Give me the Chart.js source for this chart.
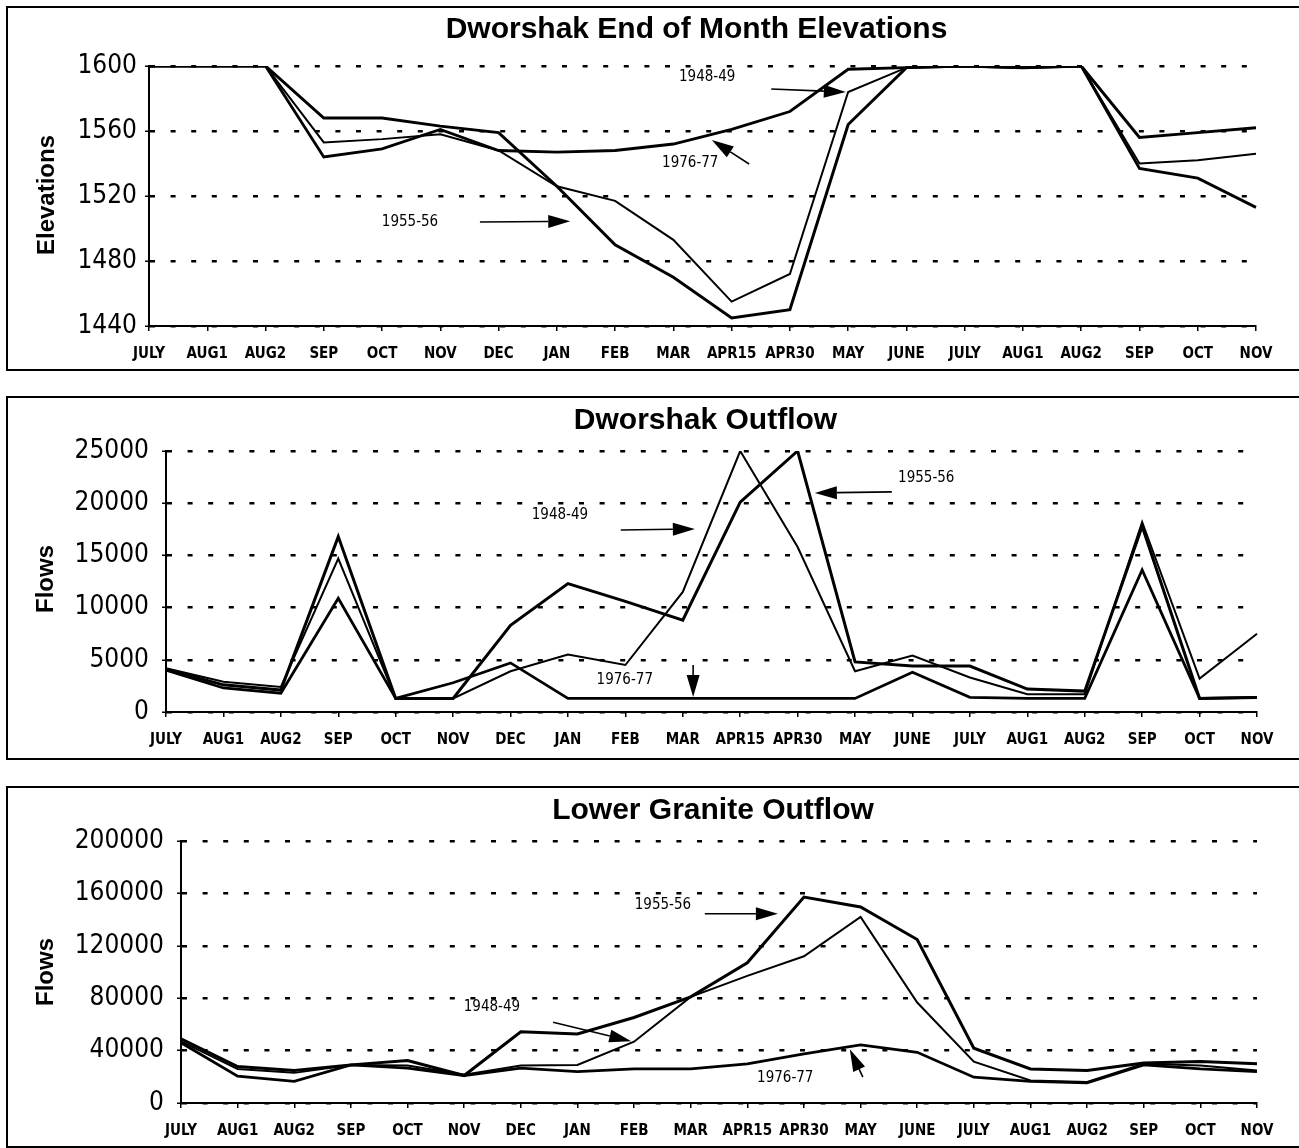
<!DOCTYPE html>
<html>
<head>
<meta charset="utf-8">
<script src="https://cdn.jsdelivr.net/npm/chart.js@4.4.1/dist/chart.umd.min.js"></script>
<style>
  html, body { margin: 0; padding: 0; background: #fff; }
  body { width: 1299px; height: 1148px; position: relative; overflow: hidden; }
  canvas { position: absolute; left: 0; }
  .box { position: absolute; border: 2.5px solid #000; box-sizing: border-box; }
</style>
</head>
<body>
<div class="box" style="left:6px; top:6px; width:1300px; height:365px;"></div>
<div class="box" style="left:6px; top:396px; width:1300px; height:364px;"></div>
<div class="box" style="left:6px; top:786px; width:1300px; height:362px;"></div>
<canvas id="c1" width="1299" height="385" style="top:0px"></canvas>
<canvas id="c2" width="1299" height="385" style="top:385px"></canvas>
<canvas id="c3" width="1299" height="378" style="top:770px"></canvas>
<script>
// ---------------- DATA ----------------
const categories = ['JULY','AUG1','AUG2','SEP','OCT','NOV','DEC','JAN','FEB','MAR','APR15','APR30','MAY','JUNE','JULY','AUG1','AUG2','SEP','OCT','NOV'];
const seriesNames = ['1948-49', '1955-56', '1976-77'];

// Dworshak end of month elevations
const elev4849 = [1600,1600,1600,1553,1555,1558,1548,1526,1517,1493,1455,1472,1584,1599,1600,1599,1600,1540,1542,1546];
const elev5556 = [1600,1600,1600,1568,1568,1563,1559,1526,1490,1470,1445,1450,1564,1599,1600,1599,1600,1556,1559,1562];
const elev7677 = [1600,1600,1600,1544,1549,1561,1548,1547,1548,1552,1561,1572,1598,1599,1600,1599,1600,1537,1531,1513];
const elevTicks = [1440, 1480, 1520, 1560, 1600];

// Dworshak outflow
const dwo4849 = [4200,2900,2400,14700,1300,1300,3900,5500,4500,11500,25000,15800,3900,5400,3300,1700,1700,18200,3200,7500];
const dwo5556 = [4100,2600,2100,16800,1300,1300,8300,12300,10600,8800,20100,25000,4800,4400,4400,2200,2000,17800,1300,1400];
const dwo7677 = [4000,2300,1800,10900,1300,2800,4700,1300,1300,1300,1300,1300,1300,3800,1400,1300,1300,13600,1300,1400];
const dwoTicks = [0, 5000, 10000, 15000, 20000, 25000];

// Lower Granite outflow
const lgo4849 = [47000,26000,23000,29000,28600,21500,28600,29100,46800,81000,97000,112000,142000,76700,31600,17200,16000,29900,28600,24800];
const lgo5556 = [49000,27800,24800,29100,32400,21000,54400,52700,65300,81000,107000,157200,149600,124800,41800,26000,24800,30600,31600,29900];
const lgo7677 = [46000,20500,16500,29100,26600,21000,26600,24000,26000,26000,29900,37500,44300,38700,19700,16500,15400,29100,26000,24000];
const lgoTicks = [0, 40000, 80000, 120000, 160000, 200000];

// Annotation labels: [label, textX(idx), textY(value), arrowFromX, arrowFromY, arrowToX, arrowToY]
const elevNotes = [
  ['1948-49', 9.58, 1593, 10.68, 1585.8, 11.96, 1584],
  ['1976-77', 9.29, 1540, 10.30, 1539.7, 9.66, 1554.5],
  ['1955-56', 4.48, 1504, 5.68, 1504, 7.23, 1504.4]
];
const dwoNotes = [
  ['1948-49', 6.86, 18870, 7.92, 17440, 9.21, 17530],
  ['1955-56', 13.24, 22420, 12.64, 21080, 11.30, 20980],
  ['1976-77', 7.99, 3070, 9.18, 4500, 9.18, 1440]
];
const lgoNotes = [
  ['1955-56', 8.51, 151300, 9.25, 144500, 10.54, 144500],
  ['1948-49', 5.49, 73000, 6.57, 61600, 7.95, 47150],
  ['1976-77', 10.67, 19000, 12.04, 19770, 11.81, 41070]
];

// ---------------- RENDER ----------------
const COND = "'DejaVu Sans Condensed', 'DejaVu Sans', sans-serif";
const BOLD = "'Liberation Sans', Arial, sans-serif";

const decoPlugin = {
  id: 'deco',
  afterDatasetsDraw(chart, args, opts) {
    const ctx = chart.ctx;
    const xs = chart.scales.x, ys = chart.scales.y;
    const ca = chart.chartArea;
    ctx.save();
    // Title
    ctx.fillStyle = '#000';
    ctx.font = 'bold 30px ' + BOLD;
    ctx.textAlign = 'center';
    ctx.textBaseline = 'middle';
    ctx.fillText(opts.title, (ca.left + ca.right) / 2 - 6, opts.titleY);
    // Y axis title
    ctx.save();
    ctx.translate(opts.yTitleX, opts.yTitleY);
    ctx.rotate(-Math.PI / 2);
    ctx.font = 'bold 24px ' + BOLD;
    ctx.fillText(opts.yTitle, 0, 0);
    ctx.restore();
    // Notes
    ctx.font = '15px ' + COND;
    ctx.strokeStyle = '#000';
    ctx.lineWidth = 1.6;
    for (const n of opts.notes) {
      const tx = xs.getPixelForValue(n[1]), ty = ys.getPixelForValue(n[2]);
      ctx.fillText(n[0], tx, ty);
      const x1 = xs.getPixelForValue(n[3]), y1 = ys.getPixelForValue(n[4]);
      const x2 = xs.getPixelForValue(n[5]), y2 = ys.getPixelForValue(n[6]);
      const ang = Math.atan2(y2 - y1, x2 - x1);
      const hl = 22, hw = 6.5;
      const bx = x2 - hl * Math.cos(ang), by = y2 - hl * Math.sin(ang);
      ctx.beginPath();
      ctx.moveTo(x1, y1);
      ctx.lineTo(bx, by);
      ctx.stroke();
      ctx.beginPath();
      ctx.moveTo(x2, y2);
      ctx.lineTo(bx + hw * Math.sin(ang), by - hw * Math.cos(ang));
      ctx.lineTo(bx - hw * Math.sin(ang), by + hw * Math.cos(ang));
      ctx.closePath();
      ctx.fill();
    }
    ctx.restore();
  }
};

function makeChart(id, series, ticks, geo, deco) {
  const widths = [2, 3, 2.8];
  return new Chart(document.getElementById(id), {
    type: 'line',
    data: {
      labels: categories,
      datasets: series.map((d, i) => ({
        label: seriesNames[i],
        data: d,
        borderColor: '#000',
        backgroundColor: '#000',
        borderWidth: widths[i],
        pointRadius: 0,
        tension: 0,
        fill: false
      }))
    },
    options: {
      responsive: false,
      devicePixelRatio: 1,
      animation: false,
      layout: { padding: { top: geo.top, right: geo.right, bottom: 0, left: 0 } },
      plugins: {
        legend: { display: false },
        tooltip: { enabled: false },
        title: { display: false },
        deco: deco
      },
      scales: {
        x: {
          type: 'category',
          offset: false,
          afterFit: (s) => { s.height = geo.xh; },
          grid: { display: true, drawOnChartArea: false, drawTicks: true, tickLength: 5, color: '#000', lineWidth: 1.5 },
          border: { display: true, color: '#000', width: 2 },
          ticks: {
            autoSkip: false, maxRotation: 0, minRotation: 0, padding: 14,
            color: '#000', font: { family: COND, size: 15, weight: 'bold' }
          }
        },
        y: {
          min: ticks[0],
          max: ticks[ticks.length - 1],
          afterFit: (s) => { s.width = geo.yw; },
          afterBuildTicks: (s) => { s.ticks = ticks.map(v => ({ value: v })); },
          grid: {
            display: true, drawOnChartArea: true, drawTicks: true, tickLength: 4,
            color: '#000', lineWidth: 2.5, tickColor: '#000', tickWidth: 1.5
          },
          border: { display: true, color: '#000', width: 2, dash: [5, 15.6] },
          ticks: {
            padding: geo.ypad, color: '#000',
            font: { family: COND, size: 26 },
            callback: (v) => String(v)
          }
        }
      }
    },
    plugins: [decoPlugin]
  });
}

makeChart('c1', [elev4849, elev5556, elev7677], elevTicks,
  { top: 66, right: 43, xh: 59, yw: 149, ypad: 8 },
  { title: 'Dworshak End of Month Elevations', titleY: 30, yTitle: 'Elevations', yTitleX: 47, yTitleY: 195, notes: elevNotes });

makeChart('c2', [dwo4849, dwo5556, dwo7677], dwoTicks,
  { top: 66, right: 42, xh: 58, yw: 166, ypad: 13 },
  { title: 'Dworshak Outflow', titleY: 36, yTitle: 'Flows', yTitleX: 46, yTitleY: 194, notes: dwoNotes });

makeChart('c3', [lgo4849, lgo5556, lgo7677], lgoTicks,
  { top: 71, right: 42, xh: 45, yw: 181, ypad: 13 },
  { title: 'Lower Granite Outflow', titleY: 41, yTitle: 'Flows', yTitleX: 46, yTitleY: 202, notes: lgoNotes });
</script>
</body>
</html>
